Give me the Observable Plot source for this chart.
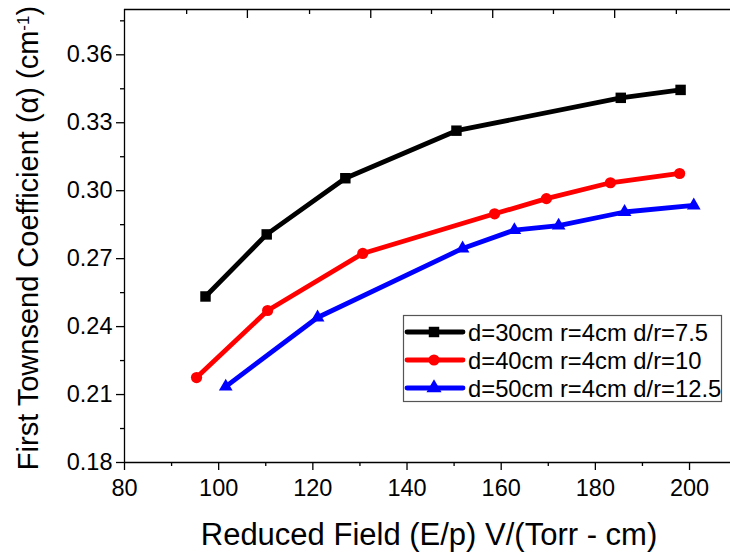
<!DOCTYPE html>
<html>
<head>
<meta charset="utf-8">
<script src="https://cdn.jsdelivr.net/npm/d3@7"></script>
<script src="https://cdn.jsdelivr.net/npm/@observablehq/plot@0.6"></script>
<style>
  html, body { margin: 0; padding: 0; background: #fff; }
  #chart svg { display: block; }
</style>
</head>
<body>
<div id="chart"></div>
<script>
// ---- data ----
const seriesNames = ["d=30cm r=4cm d/r=7.5", "d=40cm r=4cm d/r=10", "d=50cm r=4cm d/r=12.5"];
const seriesColors = ["#000000", "#ff0000", "#0000ff"];
const seriesSymbols = ["square", "circle", "triangle"];

const x30 = [97.2, 110.2, 126.9, 150.5, 185.4, 198.1];
const y30 = [0.2533, 0.2807, 0.3055, 0.3265, 0.3410, 0.3445];

const x40 = [95.3, 110.4, 130.6, 158.6, 169.6, 183.2, 197.9];
const y40 = [0.2175, 0.2471, 0.2723, 0.2898, 0.2965, 0.3035, 0.3076];

const x50 = [101.5, 121.0, 151.8, 162.8, 172.2, 186.2, 200.9];
const y50 = [0.2135, 0.2440, 0.2745, 0.2826, 0.2846, 0.2906, 0.2935];

const xMajorTicks = [80, 100, 120, 140, 160, 180, 200];
const xMinorTicks = [90, 110, 130, 150, 170, 190];
const yMajorTicks = [0.18, 0.21, 0.24, 0.27, 0.30, 0.33, 0.36];
const yMinorTicks = [0.195, 0.225, 0.255, 0.285, 0.315, 0.345, 0.375];
const topMajorTicks = [106.1, 132.3, 158.2, 184.1];
const topMinorTicks = [93.2, 119.3, 145.2, 171.1, 197.2];

const xTitle = "Reduced Field (E/p) V/(Torr - cm)";
const yTitleMain = "First Townsend Coefficient (α) (cm";
const yTitleSup = "-1";
const yTitleEnd = ")";

// ---- build table ----
const xs = [x30, x40, x50], ys = [y30, y40, y50];
const data = [];
xs.forEach((arr, s) => arr.forEach((xv, i) => data.push({series: seriesNames[s], s, x: xv, y: ys[s][i]})));

const xDomain = [80, 208.7];
const yDomain = [0.18, 0.38];
const font = "Arial, 'Liberation Sans', sans-serif";

const marks = [];
// frame lines
marks.push(Plot.ruleX([80], {stroke: "#000", strokeWidth: 1.3}));
marks.push(Plot.ruleY([0.18], {stroke: "#000", strokeWidth: 1.3}));
marks.push(Plot.ruleY([0.38], {stroke: "#000", strokeWidth: 1.3}));
// axes
marks.push(Plot.axisX(xMajorTicks, {tickSize: 8, tickPadding: 9, tickFormat: d3.format("d"), label: null, strokeWidth: 1.3}));
marks.push(Plot.axisX(xMinorTicks, {tickSize: 4, tickFormat: () => "", label: null, strokeWidth: 1.3}));
marks.push(Plot.axisY(yMajorTicks, {tickSize: 8, tickPadding: 4, tickFormat: d3.format(".2f"), label: null, strokeWidth: 1.3}));
marks.push(Plot.axisY(yMinorTicks, {tickSize: 4, tickFormat: () => "", label: null, strokeWidth: 1.3}));
marks.push(Plot.axisX(topMajorTicks, {anchor: "top", tickSize: -8, tickFormat: () => "", label: null, strokeWidth: 1.3}));
marks.push(Plot.axisX(topMinorTicks, {anchor: "top", tickSize: -4, tickFormat: () => "", label: null, strokeWidth: 1.3}));

seriesNames.forEach((name, s) => {
  const sub = data.filter(d => d.s === s);
  marks.push(Plot.line(sub, {x: "x", y: "y", stroke: seriesColors[s], strokeWidth: 4.8, strokeLinejoin: "round"}));
  const r = s === 0 ? 5.9 : s === 1 ? 5.6 : 5.1;
  marks.push(Plot.dot(sub, {x: "x", y: "y", symbol: () => seriesSymbols[s], fill: seriesColors[s], r, stroke: "none"}));
});

const chart = Plot.plot({
  width: 730,
  height: 554,
  marginLeft: 124,
  marginRight: 0,
  marginTop: 9,
  marginBottom: 92,
  x: {domain: xDomain, axis: null},
  y: {domain: yDomain, axis: null},
  symbol: {domain: seriesSymbols, range: seriesSymbols},
  style: {fontFamily: font, fontSize: "23.5px", color: "#000", background: "#fff", overflow: "visible"},
  marks
});
document.getElementById("chart").appendChild(chart);

// ---- titles and legend (real text) ----
const svg = d3.select(chart);

svg.append("text")
  .attr("x", 429).attr("y", 545)
  .attr("text-anchor", "middle")
  .style("font-family", font).style("font-size", "31px").attr("fill", "#000")
  .text(xTitle);

const yt = svg.append("text")
  .attr("transform", "translate(38,238) rotate(-90)")
  .attr("text-anchor", "middle")
  .style("font-family", font).style("font-size", "29px").attr("fill", "#000");
yt.append("tspan").text(yTitleMain);
yt.append("tspan").attr("baseline-shift", "super").style("font-size", "17px").text(yTitleSup);
yt.append("tspan").attr("baseline-shift", "0").text(yTitleEnd);

const lg = svg.append("g");
lg.append("rect").attr("x", 403.5).attr("y", 315.5).attr("width", 318).attr("height", 86)
  .attr("fill", "#fff").attr("stroke", "#555").attr("stroke-width", 1.2);
const rowY = [332, 360, 388];
const symMap = {square: d3.symbolSquare, circle: d3.symbolCircle, triangle: d3.symbolTriangle};
seriesNames.forEach((name, s) => {
  const g = lg.append("g");
  g.append("line").attr("x1", 407).attr("x2", 463).attr("y1", rowY[s]).attr("y2", rowY[s])
    .attr("stroke", seriesColors[s]).attr("stroke-width", 4.8).attr("stroke-linecap", "round");
  const r = s === 0 ? 5.9 : s === 1 ? 5.6 : 5.6;
  g.append("path").attr("transform", `translate(434,${rowY[s]})`)
    .attr("d", d3.symbol(symMap[seriesSymbols[s]], Math.PI * r * r)())
    .attr("fill", seriesColors[s]);
  g.append("text").attr("x", 468).attr("y", rowY[s]).attr("dy", "0.36em")
    .attr("text-anchor", "start")
    .style("font-family", font).style("font-size", "23.8px").attr("fill", "#000")
    .text(name);
});
</script>
</body>
</html>
